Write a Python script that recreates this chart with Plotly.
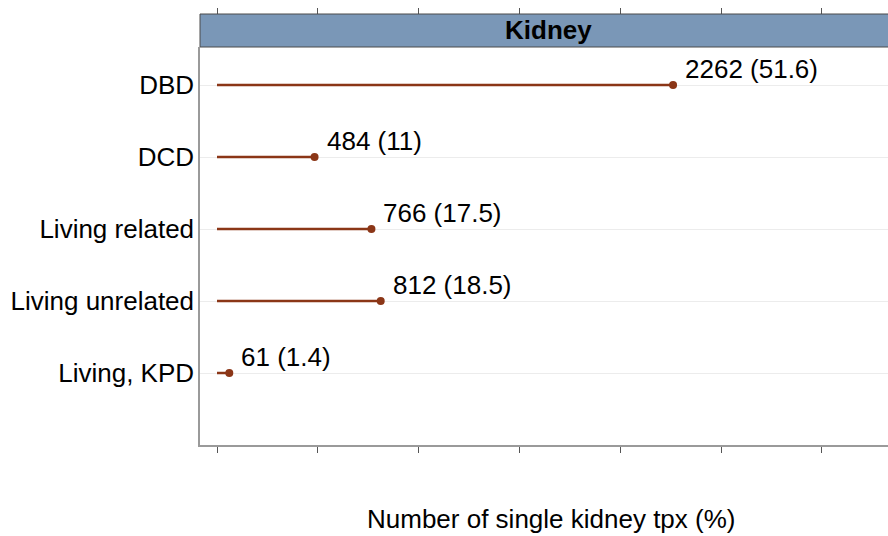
import plotly.graph_objects as go

categories = ["DBD", "DCD", "Living related", "Living unrelated", "Living, KPD"]
counts = [2262, 484, 766, 812, 61]
percents = [51.6, 11, 17.5, 18.5, 1.4]
panel_title = "Kidney"
x_title = "Number of single kidney tpx (%)"

LINE_COLOR = "#8B3617"
FONT = "Liberation Sans, Arial, sans-serif"
FS = 26
X_RANGE = [-84.3, 3328]

labels = [f"{n} ({p:g})" for n, p in zip(counts, percents)]

fig = go.Figure()

# stems
xs, ys = [], []
for c, n in zip(categories, counts):
    xs += [0, n, None]
    ys += [c, c, None]
fig.add_trace(go.Scatter(x=xs, y=ys, mode="lines",
                         line=dict(color=LINE_COLOR, width=2.5),
                         hoverinfo="skip", showlegend=False))
# heads
fig.add_trace(go.Scatter(x=counts, y=categories, mode="markers",
                         marker=dict(color=LINE_COLOR, size=8),
                         showlegend=False))
# invisible trace for top axis
fig.add_trace(go.Scatter(x=[0], y=[categories[0]], xaxis="x2", mode="markers",
                         marker=dict(opacity=0), hoverinfo="skip", showlegend=False))

for c, n, lab in zip(categories, counts, labels):
    fig.add_annotation(x=n, y=c, text=lab, showarrow=False,
                       xanchor="left", yanchor="middle", xshift=10, yshift=16,
                       font=dict(size=FS, color="black", family=FONT))

plot_top_frac = 398 / 431
fig.add_shape(type="rect", xref="paper", yref="paper",
              x0=0, x1=1.02, y0=plot_top_frac, y1=1,
              fillcolor="#7A97B7", line=dict(color="#4a4a4a", width=1), layer="above")
fig.add_annotation(xref="paper", yref="paper", x=(548 - 200) / 688, y=(plot_top_frac + 1) / 2,
                   text=f"<b>{panel_title}</b>", showarrow=False,
                   xanchor="center", yanchor="middle",
                   font=dict(size=FS, color="black", family=FONT))
fig.add_annotation(xref="paper", yref="paper", x=(551 - 200) / 688, y=-74 / 431,
                   text=x_title, showarrow=False, xanchor="center", yanchor="middle",
                   font=dict(size=FS, color="black", family=FONT))

fig.update_layout(
    width=888, height=536,
    margin=dict(l=200, r=0, t=14, b=91),
    plot_bgcolor="white", paper_bgcolor="white",
    font=dict(family=FONT, size=FS, color="black"),
    xaxis=dict(range=X_RANGE, tick0=0, dtick=500, ticks="outside", ticklen=6,
               tickcolor="#555555", showticklabels=False, showgrid=False,
               zeroline=False, showline=True, linecolor="#9a9a9a", linewidth=1.5),
    xaxis2=dict(range=X_RANGE, tick0=0, dtick=500, ticks="outside", ticklen=6,
                tickcolor="#555555", showticklabels=False, showgrid=False,
                zeroline=False, showline=False, overlaying="x", side="top",
                anchor="free", position=1),
    yaxis=dict(domain=[0, plot_top_frac], type="category",
               categoryorder="array", categoryarray=categories[::-1],
               range=[-1, 4.528], ticks="", showgrid=True, gridcolor="#ececec",
               gridwidth=1, zeroline=False, showline=True, linecolor="#9a9a9a",
               linewidth=1.5, ticklabelstandoff=-1,
               tickfont=dict(size=FS, color="black", family=FONT)),
)

fig.write_html("out.html", config={"displayModeBar": False},
               post_script="document.body.style.margin='0px';document.body.style.overflow='hidden';")
